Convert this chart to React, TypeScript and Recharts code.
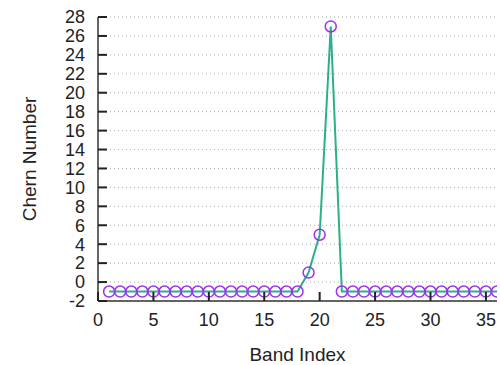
import { LineChart, Line, XAxis, YAxis, CartesianGrid } from "recharts"

const bandIndex = Array.from({ length: 36 }, (_, i) => i + 1)
const chernNumber = [
  -1, -1, -1, -1, -1, -1, -1, -1, -1, -1, -1, -1, -1, -1, -1, -1, -1, -1,
  1, 5, 27,
  -1, -1, -1, -1, -1, -1, -1, -1, -1, -1, -1, -1, -1, -1, -1,
]
const xTicks = [0, 5, 10, 15, 20, 25, 30, 35]
const yTicks = [-2, 0, 2, 4, 6, 8, 10, 12, 14, 16, 18, 20, 22, 24, 26, 28]

const data = bandIndex.map((b, i) => ({ band: b, chern: chernNumber[i] }))

const font = "'Liberation Sans', Arial, Helvetica, sans-serif"
const axisColor = "#333"
const tickColor = "#222"
const TICK_LEN = 9

// gnuplot-style ticks point into the plot
const LeftTick = (props: any) => {
  const { x, y, payload } = props
  return (
    <g>
      <line x1={x + 13} x2={x + 13 + TICK_LEN} y1={y} y2={y} stroke={tickColor} strokeWidth={2} />
      <text x={x} y={y} dy="0.35em" textAnchor="end" fontSize={18} fill="#222" fontFamily={font}>
        {payload.value}
      </text>
    </g>
  )
}

const BottomTick = (props: any) => {
  const { x, y, payload } = props
  return (
    <g>
      <line x1={x} x2={x} y1={y - 12} y2={y - 12 - TICK_LEN} stroke={tickColor} strokeWidth={2} />
      <text x={x} y={y} dy="0.72em" textAnchor="middle" fontSize={18} fill="#222" fontFamily={font}>
        {payload.value}
      </text>
    </g>
  )
}

const TopTick = (props: any) => {
  const { x, y } = props
  return <line x1={x} x2={x} y1={y} y2={y + TICK_LEN} stroke={tickColor} strokeWidth={2} />
}

const RightTick = (props: any) => {
  const { x, y } = props
  return <line x1={x} x2={x - TICK_LEN} y1={y} y2={y} stroke={tickColor} strokeWidth={2} />
}

export default function App() {
  return (
    <div style={{ position: "absolute", left: 0, top: 0, width: 500, height: 365, background: "#fff" }}>
      <LineChart width={500} height={365} data={data} margin={{ top: 17, right: 3, bottom: 0, left: 0 }}>
        <CartesianGrid vertical={false} stroke="#aaa" strokeDasharray="1 3" yAxisId="left" />
        <XAxis
          xAxisId="bottom"
          dataKey="band"
          type="number"
          domain={[0, 36]}
          ticks={xTicks}
          allowDataOverflow
          stroke={axisColor}
          strokeWidth={1.5}
          tickLine={false}
          tickSize={0}
          tickMargin={12}
          tick={<BottomTick />}
          height={64}
          label={{ value: "Band Index", position: "insideBottom", offset: 4, style: { fontSize: 19, fill: "#222", fontFamily: font } }}
        />
        <XAxis
          xAxisId="top"
          orientation="top"
          dataKey="band"
          type="number"
          domain={[0, 36]}
          ticks={xTicks}
          stroke={axisColor}
          strokeWidth={1.5}
          tickLine={false}
          tickSize={0}
          tickMargin={0}
          tick={<TopTick />}
          height={0}
        />
        <YAxis
          yAxisId="left"
          type="number"
          domain={[-2, 28]}
          ticks={yTicks}
          interval={0}
          stroke={axisColor}
          strokeWidth={1.5}
          tickLine={false}
          tickSize={0}
          tickMargin={13}
          tick={<LeftTick />}
          width={98}
          label={{ value: "Chern Number", angle: -90, position: "insideLeft", offset: 29, style: { fontSize: 19, fill: "#222", fontFamily: font, textAnchor: "middle" } }}
        />
        <YAxis
          yAxisId="right"
          orientation="right"
          type="number"
          domain={[-2, 28]}
          ticks={yTicks}
          interval={0}
          stroke={axisColor}
          strokeWidth={1.5}
          tickLine={false}
          tickSize={0}
          tickMargin={0}
          tick={<RightTick />}
          width={0}
        />
        <Line
          xAxisId="bottom"
          yAxisId="left"
          dataKey="chern"
          stroke="#2bb08a"
          strokeWidth={2}
          dot={{ r: 5.5, stroke: "#a030ec", strokeWidth: 1.5, fill: "none" }}
          isAnimationActive={false}
        />
      </LineChart>
    </div>
  )
}
